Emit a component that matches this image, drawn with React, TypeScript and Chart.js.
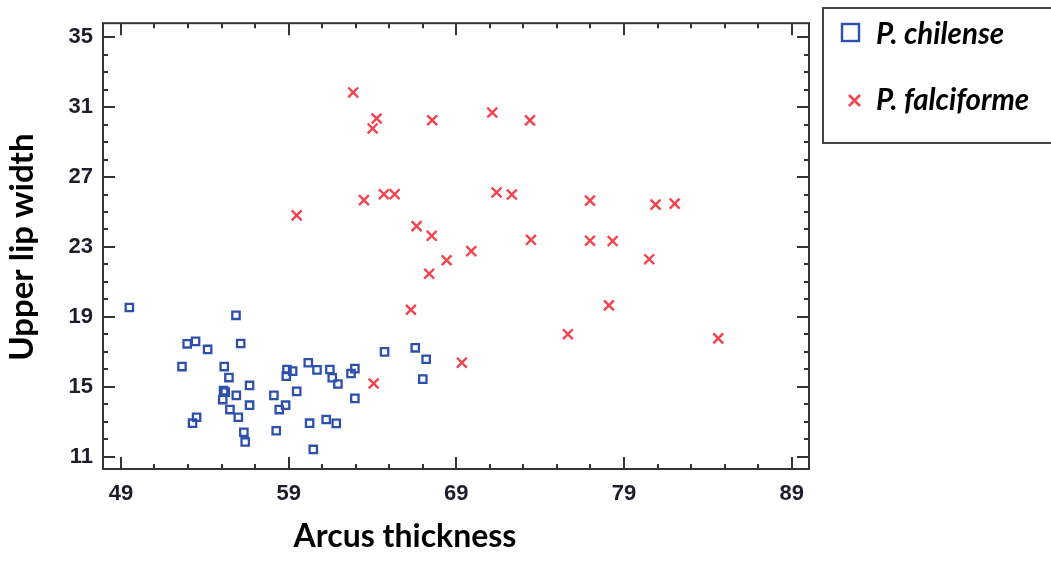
import React, { useEffect, useRef } from 'react';
import { Chart, registerables } from 'chart.js';

Chart.register(...registerables);

const xTickValues = [49, 59, 69, 79, 89];
const yTickValues = [11, 15, 19, 23, 27, 31, 35];
const seriesLabels = ['P. chilense', 'P. falciforme'];
const xTitle = 'Arcus thickness';
const yTitle = 'Upper lip width';

const chilenseX = [49.5, 55.86, 52.95, 53.45, 54.17, 56.14, 52.64, 55.16, 55.44, 55.12, 55.22, 55.07, 55.88, 56.67, 55.5, 56.0, 56.67, 53.51, 53.27, 56.33, 56.41, 58.12, 58.44, 58.82, 58.26, 59.48, 58.9, 58.86, 59.24, 60.17, 60.69, 60.25, 60.47, 61.46, 61.6, 61.94, 61.24, 61.84, 62.72, 62.95, 62.95, 64.72, 66.55, 67.2, 67.0];
const chilenseY = [19.54, 19.09, 17.46, 17.6, 17.14, 17.48, 16.16, 16.16, 15.53, 14.78, 14.7, 14.27, 14.51, 15.08, 13.7, 13.26, 13.95, 13.26, 12.92, 12.4, 11.85, 14.51, 13.7, 13.95, 12.49, 14.74, 15.99, 15.61, 15.9, 16.38, 15.97, 12.92, 11.42, 15.99, 15.52, 15.16, 13.13, 12.91, 15.76, 16.04, 14.34, 17.0, 17.23, 16.58, 15.44];

const falciformeX = [62.85, 64.25, 64.01, 67.56, 59.48, 63.49, 64.68, 65.32, 66.63, 67.53, 68.42, 71.14, 73.39, 71.4, 72.31, 76.97, 80.88, 82.02, 73.45, 76.97, 78.32, 69.89, 80.5, 69.33, 75.65, 78.1, 84.62, 67.38, 66.29, 64.07];
const falciformeY = [31.84, 30.35, 29.78, 30.25, 24.81, 25.68, 26.02, 26.02, 24.19, 23.64, 22.24, 30.69, 30.24, 26.12, 26.0, 25.65, 25.42, 25.48, 23.41, 23.36, 23.34, 22.76, 22.3, 16.38, 18.01, 19.66, 17.77, 21.47, 19.41, 15.19];

const BLUE = '#2d50ad';
const RED = '#f2444e';
const FRAME = '#333333';

const framePlugin = {
  id: 'frameTicks',
  afterDraw(chart: any) {
    const { ctx, chartArea } = chart;
    const xs = chart.scales.x;
    const ys = chart.scales.y;
    const { left, right, top, bottom } = chartArea;
    ctx.save();
    ctx.strokeStyle = FRAME;
    ctx.lineWidth = 2;
    ctx.strokeRect(left, top, right - left, bottom - top);
    ctx.lineWidth = 2;
    ctx.beginPath();
    for (let v = 49; v <= 89; v += 2) {
      const major = xTickValues.includes(v);
      const len = major ? 12 : 5;
      const px = Math.round(xs.getPixelForValue(v));
      ctx.moveTo(px, bottom);
      ctx.lineTo(px, bottom - len);
      ctx.moveTo(px, top);
      ctx.lineTo(px, top + len);
    }
    for (let v = 11; v <= 35; v += 1) {
      const major = yTickValues.includes(v);
      const len = major ? 12 : 5;
      const py = Math.round(ys.getPixelForValue(v));
      ctx.moveTo(left, py);
      ctx.lineTo(left + len, py);
      ctx.moveTo(right, py);
      ctx.lineTo(right - len, py);
    }
    ctx.stroke();

    // axis titles
    ctx.fillStyle = '#000000';
    ctx.textAlign = 'center';
    ctx.textBaseline = 'alphabetic';
    ctx.font = 'bold 32px Lato';
    ctx.fillText(xTitle, 405, 547);
    ctx.save();
    ctx.translate(33, (top + bottom) / 2 + 1);
    ctx.rotate(-Math.PI / 2);
    ctx.font = 'bold 33px Lato';
    ctx.fillText(yTitle, 0, 0);
    ctx.restore();

    // legend
    ctx.strokeStyle = '#444444';
    ctx.lineWidth = 2;
    ctx.strokeRect(823, 8, 260, 135);
    ctx.strokeStyle = BLUE;
    ctx.lineWidth = 2.4;
    ctx.strokeRect(842, 24, 17, 17);
    ctx.strokeStyle = RED;
    ctx.lineWidth = 2.6;
    ctx.beginPath();
    ctx.moveTo(849, 95);
    ctx.lineTo(860, 106);
    ctx.moveTo(860, 95);
    ctx.lineTo(849, 106);
    ctx.stroke();
    ctx.fillStyle = '#000000';
    ctx.font = 'italic bold 29.5px Lato';
    ctx.textBaseline = 'middle';
    ctx.textAlign = 'left';
    ctx.fillText(seriesLabels[0], 876, 34);
    ctx.fillText(seriesLabels[1], 876, 100);
    ctx.restore();
  },
};

export default function App() {
  const ref = useRef<HTMLCanvasElement | null>(null);
  useEffect(() => {
    if (!ref.current) return;
    const chart = new Chart(ref.current, {
      type: 'scatter',
      data: {
        datasets: [
          {
            label: seriesLabels[0],
            data: chilenseX.map((x, i) => ({ x, y: chilenseY[i] })),
            pointStyle: 'rect',
            pointRadius: 5.2,
            pointBorderWidth: 2.3,
            borderColor: BLUE,
            backgroundColor: 'rgba(0,0,0,0)',
          },
          {
            label: seriesLabels[1],
            data: falciformeX.map((x, i) => ({ x, y: falciformeY[i] })),
            pointStyle: 'crossRot',
            pointRadius: 7,
            pointBorderWidth: 2.4,
            borderColor: RED,
            backgroundColor: RED,
          },
        ],
      },
      options: {
        animation: false,
        responsive: false,
        devicePixelRatio: 1,
        layout: { padding: { left: 0, top: 19, right: 242, bottom: 0 } },
        plugins: { legend: { display: false }, tooltip: { enabled: false } },
        scales: {
          x: {
            type: 'linear',
            min: 47.93,
            max: 90.03,
            afterBuildTicks: (s: any) => {
              s.ticks = xTickValues.map((v) => ({ value: v }));
            },
            afterFit: (s: any) => {
              s.height = 92;
            },
            grid: { display: false, drawTicks: false },
            border: { display: false },
            ticks: {
              autoSkip: false,
              maxRotation: 0,
              padding: 12,
              color: '#1e1e2a',
              font: { family: 'Liberation Sans', weight: 'bold', size: 22 },
            },
          },
          y: {
            type: 'linear',
            min: 10.3,
            max: 35.8,
            afterBuildTicks: (s: any) => {
              s.ticks = yTickValues.map((v) => ({ value: v }));
            },
            afterFit: (s: any) => {
              s.width = 103;
            },
            grid: { display: false, drawTicks: false },
            border: { display: false },
            ticks: {
              autoSkip: false,
              padding: 10,
              color: '#1e1e2a',
              font: { family: 'Liberation Sans', weight: 'bold', size: 22 },
            },
          },
        },
      },
      plugins: [framePlugin],
    } as any);
    return () => chart.destroy();
  }, []);
  return (
    <div style={{ position: 'fixed', left: 0, top: 0, width: 1051, height: 561, background: '#ffffff' }}>
      <canvas ref={ref} width={1051} height={561} style={{ display: 'block', width: 1051, height: 561 }} />
    </div>
  );
}
